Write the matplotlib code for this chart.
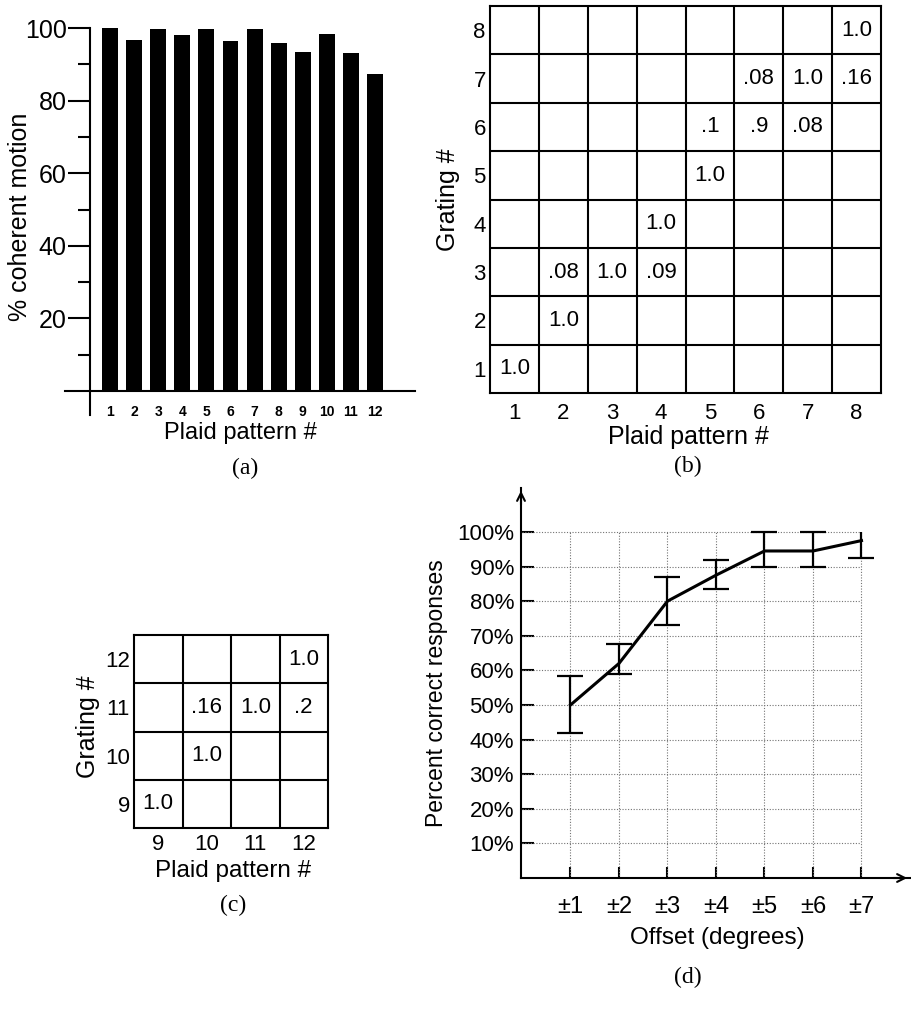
import matplotlib
matplotlib.use("Agg")
import matplotlib.pyplot as plt

W, H = 911, 1017
plt.rcParams['font.family'] = ['Liberation Sans', 'DejaVu Sans']

# (a) percent coherent motion per plaid
plaid_a = list(range(1, 13))
coherent = [100, 96.7, 99.8, 98.1, 99.8, 96.4, 99.6, 95.8, 93.3, 98.4, 93.2, 87.2]

# (b) grating vs plaid table, patterns 1-8
b_plaid = [1, 2, 2, 3, 4, 4, 5, 5, 6, 7, 6, 7, 8, 8]
b_grating = [1, 2, 3, 3, 3, 4, 5, 6, 6, 6, 7, 7, 7, 8]
b_text = ['1.0', '1.0', '.08', '1.0', '.09', '1.0', '1.0', '.1', '.9', '.08',
          '.08', '1.0', '.16', '1.0']

# (c) patterns 9-12
c_plaid = [9, 10, 10, 11, 12, 12]
c_grating = [9, 10, 11, 11, 11, 12]
c_text = ['1.0', '1.0', '.16', '1.0', '.2', '1.0']

# (d) percent correct vs offset
offsets = [1, 2, 3, 4, 5, 6, 7]
offset_labels = ['±1', '±2', '±3', '±4', '±5', '±6', '±7']
pct = [50, 62, 80, 87.5, 94.5, 94.5, 97.5]
pct_lo = [42, 59, 73, 83.5, 90, 90, 92.5]
pct_hi = [58.5, 67.5, 87, 92, 100, 100, 100]

fig = plt.figure(figsize=(W / 100, H / 100), dpi=100)


def px_axes(x0, y0, x1, y1):
    return fig.add_axes([x0 / W, 1 - y1 / H, (x1 - x0) / W, (y1 - y0) / H])


def px_text(x, y, s, **kw):
    kw.setdefault('ha', 'center')
    kw.setdefault('va', 'center')
    fig.text(x / W, 1 - y / H, s, **kw)


serif = ['Liberation Serif', 'DejaVu Serif']

# ---- (a)
ax = px_axes(65, 28, 415, 415)
ax.bar(plaid_a, coherent, width=0.66, color='black')
ax.set_xlim(-0.87, 13.66)
ax.set_ylim(-6.6, 100)
ax.spines['top'].set_visible(False)
ax.spines['right'].set_visible(False)
ax.spines['left'].set_position(('data', 0.17))
ax.spines['bottom'].set_position(('data', 0))
for s in ['left', 'bottom']:
    ax.spines[s].set_linewidth(1.5)
ax.set_yticks([20, 40, 60, 80, 100])
ax.set_yticks([10, 30, 50, 70, 90], minor=True)
ax.tick_params(axis='y', which='major', length=15.8, width=1.5, labelsize=18, pad=1)
ax.tick_params(axis='y', which='minor', length=8.6, width=1.5)
ax.set_xticks(plaid_a)
ax.set_xticklabels([str(p) for p in plaid_a], fontweight='bold')
ax.tick_params(axis='x', length=0, labelsize=10, pad=10)
px_text(20, 217, '% coherent motion', rotation=90, size=18)
px_text(240, 433, 'Plaid pattern #', size=17)
px_text(245, 468, '(a)', size=17, family=serif)


def table_panel(rect, lo, hi, cols, rows, texts, tsize, xpad=7):
    ax = px_axes(*rect)
    ax.set_xlim(lo - 0.5, hi + 0.5)
    ax.set_ylim(lo - 0.5, hi + 0.5)
    ticks = list(range(lo, hi + 1))
    ax.set_xticks(ticks)
    ax.set_yticks(ticks)
    ax.set_xticks([t + 0.5 for t in ticks[:-1]], minor=True)
    ax.set_yticks([t + 0.5 for t in ticks[:-1]], minor=True)
    ax.grid(which='minor', color='black', linewidth=1.5)
    ax.tick_params(which='both', length=0, labelsize=tsize)
    ax.tick_params(axis='x', pad=xpad)
    ax.tick_params(axis='y', pad=3)
    for s in ax.spines.values():
        s.set_linewidth(1.5)
    for c, r, t in zip(cols, rows, texts):
        ax.text(c, r, t, ha='center', va='center', size=tsize)
    return ax


# ---- (b)
table_panel((490, 6, 881, 393), 1, 8, b_plaid, b_grating, b_text, 16)
px_text(448, 200, 'Grating #', rotation=90, size=18)
px_text(688, 437, 'Plaid pattern #', size=18)
px_text(688, 466, '(b)', size=17, family=serif)

# ---- (c)
table_panel((134, 635, 328, 828), 9, 12, c_plaid, c_grating, c_text, 16, xpad=4)
px_text(88, 727, 'Grating #', rotation=90, size=18)
px_text(233, 871, 'Plaid pattern #', size=17.5)
px_text(233, 905, '(c)', size=17, family=serif)

# ---- (d)
ax = px_axes(521, 488, 910, 878)
ax.set_xlim(-0.02, 8.0)
ax.set_ylim(0, 112.7)
ax.spines['top'].set_visible(False)
ax.spines['right'].set_visible(False)
for s in ['left', 'bottom']:
    ax.spines[s].set_linewidth(1.5)
ax.annotate('', xy=(0, 1), xycoords='axes fraction', xytext=(0, 0.95),
            arrowprops=dict(arrowstyle='->', lw=1.5, color='black',
                            mutation_scale=14))
ax.annotate('', xy=(1, 0), xycoords='axes fraction', xytext=(0.95, 0),
            arrowprops=dict(arrowstyle='->', lw=1.5, color='black',
                            mutation_scale=14))
yt = list(range(10, 101, 10))
ax.hlines(yt, 0, offsets[-1], colors='0.45', linestyles=(0, (1, 1.5)), lw=0.8)
ax.vlines(offsets, 0, 100, colors='0.45', linestyles=(0, (1, 1.5)), lw=0.8)
ax.set_yticks(yt)
ax.set_yticklabels(['%d%%' % v for v in yt])
ax.set_xticks(offsets)
ax.set_xticklabels(offset_labels)
ax.tick_params(axis='y', direction='in', length=9, width=1.5, labelsize=16, pad=5)
ax.tick_params(axis='x', direction='in', length=8, width=1.5, labelsize=17, pad=13)
ax.plot(offsets, pct, color='black', lw=2.2)
ax.vlines(offsets, pct_lo, pct_hi, colors='black', lw=1.6)
ax.plot(offsets, pct_lo, '_', color='black', ms=19, mew=1.6)
ax.plot(offsets[:-1], pct_hi[:-1], '_', color='black', ms=19, mew=1.6)
px_text(437, 693, 'Percent correct responses', rotation=90, size=16.5)
px_text(717, 938, 'Offset (degrees)', size=17.5)
px_text(688, 977, '(d)', size=17, family=serif)

fig.savefig('out.png', dpi=100)
